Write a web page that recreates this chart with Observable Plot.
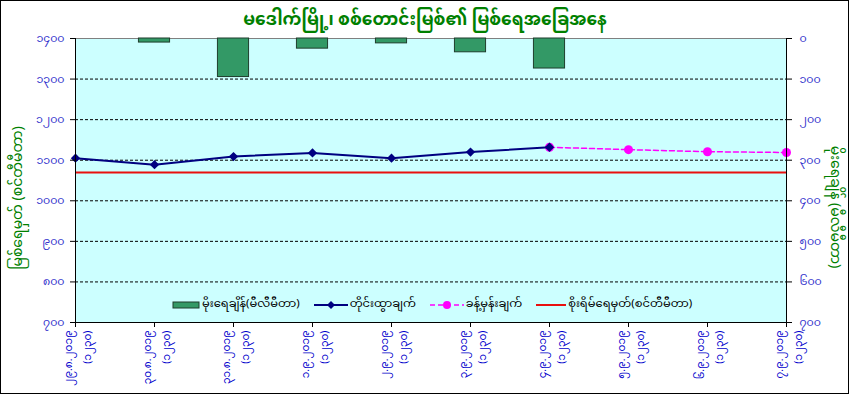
<!DOCTYPE html>
<html><head><meta charset="utf-8">
<script src="https://cdn.jsdelivr.net/npm/d3@7"></script>
<script src="https://cdn.jsdelivr.net/npm/@observablehq/plot@0.6"></script>
<style>
body{margin:0;background:#fff;}
#wrap{position:relative;width:850px;height:396px;overflow:hidden;font-family:"Noto Sans Myanmar","Myanmar Text","Padauk","Myanmar3","Noto Sans",sans-serif;}
#border{position:absolute;left:0;top:0;width:847px;height:392px;border:1px solid #000;pointer-events:none;}
#title{position:absolute;left:0;top:9px;width:850px;text-align:center;color:#008000;font-weight:bold;font-size:17px;line-height:24px;}
.ytitle{position:absolute;color:#008000;font-size:14px;white-space:nowrap;}
#ltitle{left:18px;top:198px;transform:translate(-50%,-50%) rotate(-90deg);}
#rtitle{left:834px;top:207px;transform:translate(-50%,-50%) rotate(90deg);}
#legend{position:absolute;left:172px;top:292px;display:flex;align-items:center;font-size:11.5px;color:#000;white-space:nowrap;}
#legend .it{display:flex;align-items:center;margin-right:14px;}
#legend svg{margin-right:2px;}
#chart{position:absolute;left:0;top:0;}
</style></head>
<body>
<div id="wrap">
  <div id="chart"></div>
  <div id="title"></div>
  <div id="ltitle" class="ytitle"></div>
  <div id="rtitle" class="ytitle"></div>
  <div id="legend"></div>
  <div id="border"></div>
</div>
<script>
// ---- data ----
const titleText = "မဒေါက်မြို့၊ စစ်တောင်းမြစ်၏ မြစ်ရေအခြေအနေ";
const leftTitle = "မြစ်ရေမှတ် (စင်တီမီတာ)";
const rightTitle = "မိုးရေချိန် (မီလီမီတာ)";
const dates = ["၂၉.၈.၂၀၁၉","၃၀.၈.၂၀၁၉","၃၁.၈.၂၀၁၉","၁.၉.၂၀၁၉","၂.၉.၂၀၁၉","၃.၉.၂၀၁၉","၄.၉.၂၀၁၉","၅.၉.၂၀၁၉","၆.၉.၂၀၁၉","၇.၉.၂၀၁၉"];
const obsTime = "(၁၂၃၀)";
const rainfall = [0, 10, 95, 25, 12, 34, 74, null, null, null];          // mm (right axis, reversed)
const observed = [1105, 1089, 1109, 1118, 1105, 1120, 1132, null, null, null]; // cm
const forecast = [null, null, null, null, null, null, 1132, 1126, 1121, 1119];  // cm
const dangerLevel = 1070; // cm
const leftTicks = [700, 800, 900, 1000, 1100, 1200, 1300, 1400];
const rightTicks = [0, 100, 200, 300, 400, 500, 600, 700];
const legendLabels = ["မိုးရေချိန်(မီလီမီတာ)", "တိုင်းထွာချက်", "ခန့်မှန်းချက်", "စိုးရိမ်ရေမှတ်(စင်တီမီတာ)"];

const myDigits = "၀၁၂၃၄၅၆၇၈၉";
const toMy = n => String(n).replace(/\d/g, d => myDigits[+d]);
const yTop = d3.max(leftTicks), yBot = d3.min(leftTicks);

const rows = dates.map((d, i) => ({i, date: d, time: obsTime, rain: rainfall[i], obs: observed[i], fc: forecast[i]}));
const half = 0.197;
const FONT = '"Noto Sans Myanmar","Myanmar Text","Padauk","Noto Sans",sans-serif';

const chart = Plot.plot({
  width: 850, height: 396,
  marginLeft: 75, marginRight: 64, marginTop: 38, marginBottom: 74,
  style: {fontFamily: FONT, background: "transparent"},
  x: {domain: [0, dates.length - 1]},
  y: {domain: [yBot, yTop]},
  marks: [
    Plot.frame({fill: "#ccffff", stroke: null}),
    Plot.ruleY(leftTicks.filter(v => v > yBot && v < yTop), {stroke: "#000", strokeDasharray: "3,2", strokeWidth: 1}),
    Plot.ruleY([yTop], {stroke: "#808080"}),
    Plot.rectY(rows.filter(d => d.rain > 0), {
      x1: d => d.i - half, x2: d => d.i + half,
      y1: yTop, y2: d => yTop - d.rain,
      fill: "#339966", stroke: "#1f3d2c", strokeWidth: 1
    }),
    Plot.ruleY([dangerLevel], {stroke: "#e8100f", strokeWidth: 2}),
    Plot.line(rows.filter(d => d.fc != null), {x: "i", y: "fc", stroke: "#ff00ff", strokeWidth: 1.5, strokeDasharray: "5,3"}),
    Plot.dot(rows.filter(d => d.fc != null), {x: "i", y: "fc", r: 4.5, fill: "#ff00ff", stroke: null}),
    Plot.line(rows.filter(d => d.obs != null), {x: "i", y: "obs", stroke: "#000080", strokeWidth: 2}),
    Plot.dot(rows.filter(d => d.obs != null), {x: "i", y: "obs", symbol: "diamond2", r: 4.2, fill: "#000080", stroke: null}),
    Plot.ruleX([0, dates.length - 1], {stroke: "#000"}),
    Plot.ruleY([yBot], {stroke: "#000"}),
    Plot.axisY({anchor: "left", ticks: leftTicks, tickFormat: toMy, tickSize: 5, tickPadding: 6, fontSize: 11, color: "#3333cc", stroke: "#000", label: null}),
    Plot.axisY({anchor: "right", ticks: leftTicks, tickFormat: v => toMy(yTop - v), tickSize: 5, tickPadding: 8, fontSize: 11, color: "#3333cc", stroke: "#000", label: null}),
    Plot.axisX({ticks: d3.range(dates.length), tickFormat: () => "", tickSize: 5, stroke: "#000", label: null}),
    Plot.text(rows, {x: "i", y: yBot, text: "date", rotate: -90, textAnchor: "end", lineAnchor: "middle", dx: -7, dy: 8, fontSize: 10.5, fill: "#0000cc"}),
    Plot.text(rows, {x: "i", y: yBot, text: "time", rotate: -90, textAnchor: "end", lineAnchor: "middle", dx: 12, dy: 8, fontSize: 10.5, fill: "#0000cc"})
  ]
});
document.getElementById("chart").appendChild(chart);
document.getElementById("title").textContent = titleText;
document.getElementById("ltitle").textContent = leftTitle;
document.getElementById("rtitle").textContent = rightTitle;

const sw = [
  '<svg width="28" height="10"><rect x="1" y="2" width="26" height="6" fill="#339966" stroke="#1f3d2c"/></svg>',
  '<svg width="34" height="10"><line x1="0" y1="5" x2="34" y2="5" stroke="#000080" stroke-width="2"/><path d="M17,1 L21,5 L17,9 L13,5Z" fill="#000080"/></svg>',
  '<svg width="34" height="10"><line x1="0" y1="5" x2="34" y2="5" stroke="#ff00ff" stroke-width="1.5" stroke-dasharray="5,3"/><circle cx="17" cy="5" r="4" fill="#ff00ff"/></svg>',
  '<svg width="30" height="10"><line x1="0" y1="5" x2="30" y2="5" stroke="#e8100f" stroke-width="2"/></svg>'
];
document.getElementById("legend").innerHTML = legendLabels.map((t, k) => `<div class="it">${sw[k]}<span>${t}</span></div>`).join("");
</script>
</body></html>
